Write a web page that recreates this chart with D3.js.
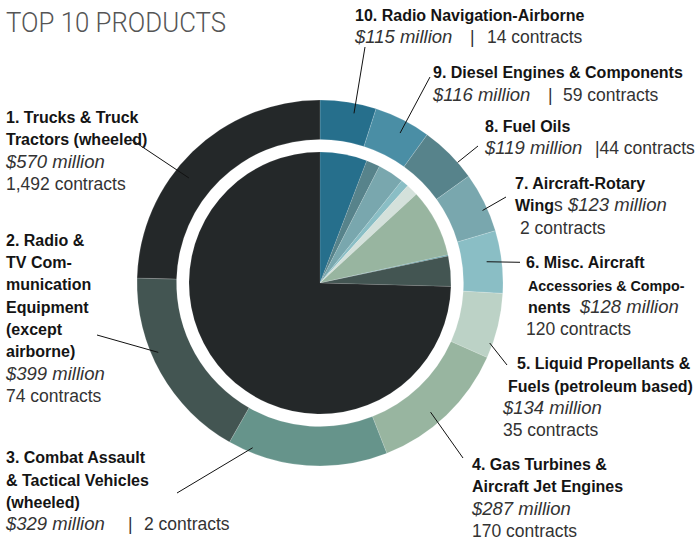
<!DOCTYPE html>
<html>
<head>
<meta charset="utf-8">
<script src="https://cdn.jsdelivr.net/npm/d3@7"></script>
<style>
  body { margin: 0; background: #fff; }
  text { font-family: "Liberation Sans", Arial, sans-serif; }
  .b { font-weight: bold; fill: #141414; font-size: 16px; }
  .bn { font-weight: bold; fill: #141414; font-size: 14.3px; }
  .i { font-style: italic; fill: #333; font-size: 18.5px; }
  .r { fill: #333; font-size: 17.5px; }
</style>
</head>
<body>
<div id="container"></div>
<script>
// ring order, clockwise from 12 o'clock: #10 down to #1
const ranks = [10, 9, 8, 7, 6, 5, 4, 3, 2, 1];
const millions = [115, 116, 119, 123, 128, 134, 287, 329, 399, 570];
const contracts = [14, 59, 44, 2, 120, 35, 170, 2, 74, 1492];
const ringColors = ["#266f8c", "#4a8ea5", "#57838b", "#79a7ae", "#8abec5",
  "#bcd2c6", "#98b5a0", "#66948b", "#435552", "#242829"];

// inner pie, shares
const innerShares = [117, 34, 65, 19, 30, 169, 3, 75, 1502];
const innerColors = ["#266f8c", "#57838b", "#79a7ae", "#8abec5", "#d4e1db",
  "#98b5a0", "#6aa3a8", "#435552", "#242829"];

const width = 696;
const height = 542;
const cx = 320;
const cy = 283;
const outerR = 183;
const ringInner = 143.5;
const pieR = 131;
const lineH = 22.3;

// label blocks: [x, first baseline, lines], each line is [class, text, x?]
const labels = {
  1: [6, 123, [[["b", "1. Trucks & Truck"]], [["b", "Tractors (wheeled)"]],
    [["i", "$570 million"]], [["r", "1,492 contracts"]]]],
  2: [6, 245.7, [[["b", "2. Radio &"]], [["b", "TV Com-"]], [["b", "munication"]],
    [["b", "Equipment"]], [["b", "(except"]], [["b", "airborne)"]],
    [["i", "$399 million"]], [["r", "74 contracts"]]]],
  3: [6, 463.3, [[["b", "3. Combat Assault"]], [["b", "& Tactical Vehicles"]],
    [["b", "(wheeled)"]],
    [["i", "$329 million"], ["r", "|", 128], ["r", "2 contracts", 144]]]],
  4: [472, 470, [[["b", "4. Gas Turbines &"]], [["b", "Aircraft Jet Engines"]],
    [["i", "$287 million"]], [["r", "170 contracts"]]]],
  5: [517, 369.3, [[["b", "5. Liquid Propellants &"]],
    [["b", "Fuels (petroleum based)", 508]],
    [["i", "$134 million", 503]], [["r", "35 contracts", 503]]]],
  6: [526, 268.3, [[["b", "6. Misc. Aircraft"]],
    [["bn", "Accessories & Compo-", 528]],
    [["b", "nents", 528], ["i", "$128 million", 580]], [["r", "120 contracts"]]]],
  7: [515, 189, [[["b", "7. Aircraft-Rotary"]],
    [["b", "Wing"], ["r", "s"], ["i", "$123 million", 568]], [["r", "2 contracts", 520]]]],
  8: [485, 131.7, [[["b", "8. Fuel Oils"]],
    [["i", "$119 million"], ["r", "|44 contracts", 595]]]],
  9: [433, 78.3, [[["b", "9. Diesel Engines & Components"]],
    [["i", "$116 million"], ["r", "|", 548], ["r", "59 contracts", 563]]]],
  10: [355, 20.7, [[["b", "10. Radio Navigation-Airborne"]],
    [["i", "$115 million"], ["r", "|", 470], ["r", "14 contracts", 487]]]]
};

// leader lines: position inside the slice (fraction, radius) and text end
const leaders = {
  1: [0.42, 168, 132, 140], 2: [0.60, 176, 97, 335], 3: [0.855, 178, 177, 493],
  4: [0.57, 170, 463, 458], 5: [0.78, 180, 507, 365], 6: [0.47, 168, 520, 262.3],
  7: [0.61, 178, 506, 197], 8: [0.70, 183, 478, 146], 9: [0.57, 170, 430, 77],
  10: [0.635, 173, 365, 47]
};

const svg = d3.select("#container").append("svg")
  .attr("width", width)
  .attr("height", height);

svg.append("text")
  .attr("x", 6)
  .attr("y", 32)
  .attr("textLength", 220)
  .attr("lengthAdjust", "spacingAndGlyphs")
  .style("font-size", "27px")
  .style("fill", "#555")
  .style("font-family", "Roboto, 'Liberation Sans', sans-serif")
  .style("font-weight", 300)
  .text("TOP 10 PRODUCTS");

const pie = d3.pie().sort(null).value(d => d);
const ringArcs = pie(millions);
const innerArcs = pie(innerShares);

const g = svg.append("g").attr("transform", `translate(${cx},${cy})`);

const ringArc = d3.arc().innerRadius(ringInner).outerRadius(outerR);
g.selectAll("path.ring")
  .data(ringArcs)
  .enter()
  .append("path")
  .attr("class", "ring")
  .attr("d", ringArc)
  .attr("fill", (d, i) => ringColors[i])
  .attr("stroke", "#fff")
  .attr("stroke-opacity", 0.25)
  .attr("stroke-width", 0.6);

const innerArc = d3.arc().innerRadius(0).outerRadius(pieR);
g.selectAll("path.inner")
  .data(innerArcs)
  .enter()
  .append("path")
  .attr("class", "inner")
  .attr("d", innerArc)
  .attr("fill", (d, i) => innerColors[i])
  .attr("stroke", "#fff")
  .attr("stroke-opacity", 0.2)
  .attr("stroke-width", 0.5);

// leader lines
ringArcs.forEach((a, i) => {
  const [t, r, x2, y2] = leaders[ranks[i]];
  const ang = a.startAngle + t * (a.endAngle - a.startAngle);
  svg.append("line")
    .attr("x1", cx + r * Math.sin(ang))
    .attr("y1", cy - r * Math.cos(ang))
    .attr("x2", x2)
    .attr("y2", y2)
    .attr("stroke", "#111")
    .attr("stroke-width", 1);
});

// label text
ranks.forEach(rank => {
  const [x, y, lines] = labels[rank];
  lines.forEach((line, li) => {
    const t = svg.append("text")
      .attr("x", x)
      .attr("y", y + li * lineH);
    line.forEach(([cls, txt, sx]) => {
      const sp = t.append("tspan").attr("class", cls).text(txt);
      if (sx !== undefined) sp.attr("x", sx);
    });
  });
});
</script>
</body>
</html>
